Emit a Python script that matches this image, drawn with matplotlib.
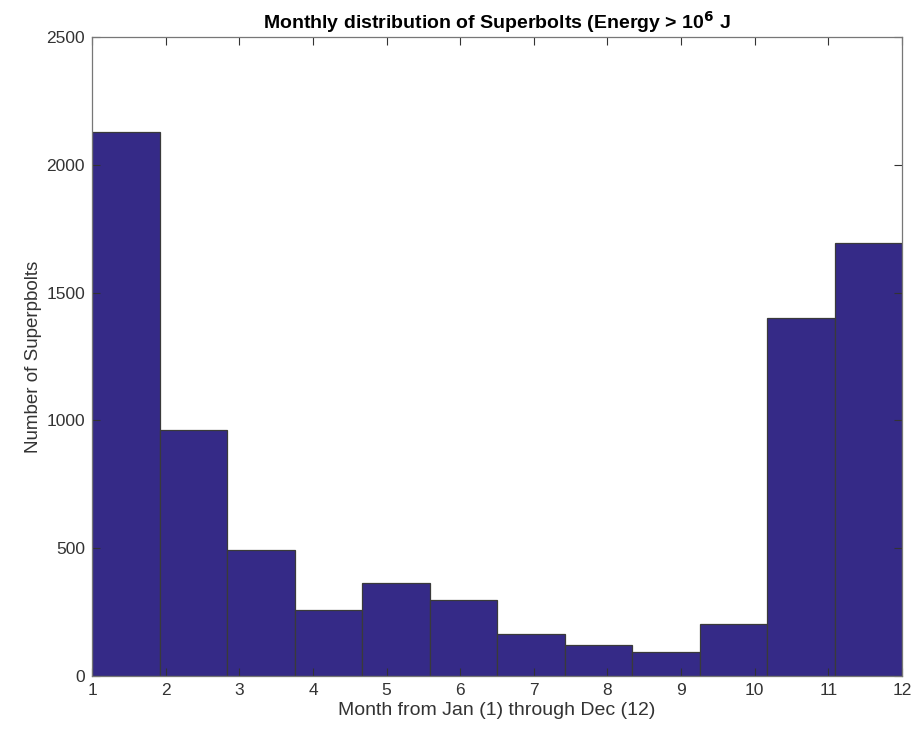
import matplotlib

matplotlib.use("Agg")
import matplotlib.pyplot as plt  # noqa: E402
import numpy as np  # noqa: E402

# superbolt counts per month bin (12 equal bins spanning 1..12)
months = [1, 2, 3, 4, 5, 6, 7, 8, 9, 10, 11, 12]
counts = [2128, 962, 492, 258, 364, 297, 164, 121, 92, 203, 1400, 1695]
xticks = [1, 2, 3, 4, 5, 6, 7, 8, 9, 10, 11, 12]
yticks = [0, 500, 1000, 1500, 2000, 2500]

plt.rcParams["font.family"] = ["Liberation Sans", "DejaVu Sans"]

fig = plt.figure(figsize=(9.13, 7.35), dpi=100)
ax = fig.add_axes([0.1008, 0.0803, 0.8872, 0.8694])

edges = np.linspace(months[0], months[-1], len(counts) + 1)
ax.bar(edges[:-1], counts, width=np.diff(edges), align="edge",
       color="#352a87", edgecolor="#3a3a3a", linewidth=0.9)

ax.set_xlim(1, 12)
ax.set_ylim(0, 2500)
ax.set_xticks(xticks)
ax.set_yticks(yticks)
ax.tick_params(direction="in", top=True, right=True, length=6,
               labelsize=12.5, colors="#333333", width=0.8, pad=5)
for s in ax.spines.values():
    s.set_color("#777777")
    s.set_linewidth(0.9)

ax.set_xlabel("Month from Jan (1) through Dec (12)", fontsize=14, color="#333333", labelpad=3)
ax.set_ylabel("Number of Superpbolts", fontsize=13.5, color="#333333", labelpad=3)
ax.set_title(r"Monthly distribution of Superbolts (Energy > 10$^{\mathbf{6}}$ J",
             fontsize=14, fontweight="bold", pad=6)

fig.savefig("out.png", dpi=100)
